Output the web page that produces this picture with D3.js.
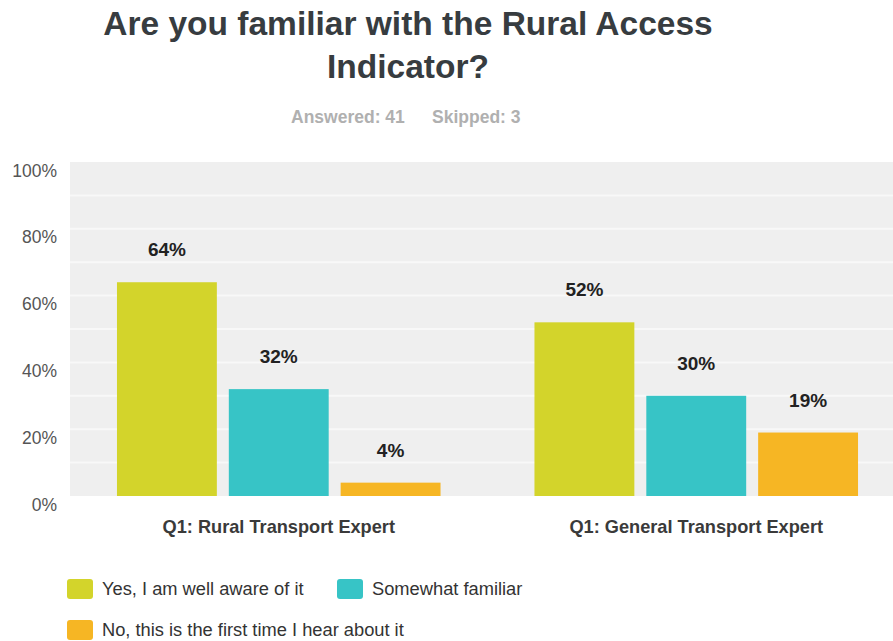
<!DOCTYPE html>
<html>
<head>
<meta charset="utf-8">
<script src="https://cdn.jsdelivr.net/npm/d3@7"></script>
<style>
html,body{margin:0;padding:0;background:#fff;}
svg{display:block;font-family:"Liberation Sans",Arial,Helvetica,sans-serif;}
</style>
</head>
<body>
<svg id="chart" width="893" height="641"></svg>
<script>
const titleLines = ["Are you familiar with the Rural Access", "Indicator?"];
const subtitleParts = ["Answered: 41", "Skipped: 3"];
const categories = ["Q1: Rural Transport Expert", "Q1: General Transport Expert"];
const seriesNames = ["Yes, I am well aware of it", "Somewhat familiar", "No, this is the first time I hear about it"];
const seriesColors = ["#d3d42b", "#37c4c6", "#f6b624"];
const yesValues = [64, 52];
const somewhatValues = [32, 30];
const noValues = [4, 19];
const yTicks = [0, 20, 40, 60, 80, 100];
const gridTicks = [10, 20, 30, 40, 50, 60, 70, 80, 90];

const seriesValues = [yesValues, somewhatValues, noValues];
const data = [];
categories.forEach((c, ci) => seriesNames.forEach((s, si) => data.push({cat: c, series: s, si, value: seriesValues[si][ci]})));

const svg = d3.select("#chart");
const plot = {left: 70, right: 905, top: 162, bottom: 496};

const x0 = d3.scaleBand().domain(categories).range([plot.left, plot.right]).paddingInner(0).paddingOuter(0);
const x1 = d3.scaleBand().domain(seriesNames).range([0, x0.bandwidth()]).paddingInner(0.107).paddingOuter(0.42);
const y = d3.scaleLinear().domain([0, 100]).range([plot.bottom, plot.top]);

// title
svg.append("g").selectAll("text").data(titleLines).join("text")
  .attr("x", 408).attr("y", (d, i) => 35 + i * 43)
  .attr("text-anchor", "middle").attr("font-size", 33.5).attr("font-weight", "bold")
  .attr("fill", "#373c40").text(d => d);

// subtitle
svg.append("g").selectAll("text").data(subtitleParts).join("text")
  .attr("x", (d, i) => i === 0 ? 291 : 432).attr("y", 123)
  .attr("font-size", 17.5).attr("font-weight", "bold").attr("fill", "#b0b0b0").text(d => d);

// plot background
svg.append("rect").attr("x", plot.left).attr("y", plot.top)
  .attr("width", plot.right - plot.left).attr("height", plot.bottom - plot.top)
  .attr("fill", "#efefef");

// gridlines
svg.append("g").selectAll("line").data(gridTicks).join("line")
  .attr("x1", plot.left).attr("x2", plot.right)
  .attr("y1", d => y(d)).attr("y2", d => y(d))
  .attr("stroke", "#f8f8f8").attr("stroke-width", 2);

// y axis
const yAxis = d3.axisLeft(y).tickValues(yTicks).tickFormat(d => d + "%").tickSize(0).tickPadding(13);
const yg = svg.append("g").attr("transform", `translate(${plot.left},0)`).call(yAxis);
yg.select(".domain").remove();
yg.selectAll("text").attr("font-size", 17.5).attr("fill", "#555").attr("dy", "0.8em")
  .attr("font-family", "Liberation Sans, Arial, sans-serif");

// bars
svg.append("g").selectAll("rect").data(data).join("rect")
  .attr("x", d => x0(d.cat) + x1(d.series))
  .attr("y", d => y(d.value))
  .attr("width", x1.bandwidth())
  .attr("height", d => y(0) - y(d.value))
  .attr("fill", d => seriesColors[d.si]);

// value labels
svg.append("g").selectAll("text").data(data).join("text")
  .attr("x", d => x0(d.cat) + x1(d.series) + x1.bandwidth() / 2)
  .attr("y", d => y(d.value) - 26)
  .attr("text-anchor", "middle").attr("font-size", 19).attr("font-weight", "bold")
  .attr("fill", "#222").text(d => d.value + "%");

// x axis
const xAxis = d3.axisBottom(x0).tickSize(0).tickPadding(24);
const xg = svg.append("g").attr("transform", `translate(0,${plot.bottom})`).call(xAxis);
xg.select(".domain").remove();
xg.selectAll("text").attr("font-size", 18.2).attr("font-weight", "bold").attr("fill", "#3a3a3a")
  .attr("font-family", "Liberation Sans, Arial, sans-serif");

// legend
const legendPos = [[67, 579], [337, 579], [67, 620]];
const lg = svg.append("g").selectAll("g").data(seriesNames).join("g")
  .attr("transform", (d, i) => `translate(${legendPos[i][0]},${legendPos[i][1]})`);
lg.append("rect").attr("width", 26).attr("height", 20).attr("rx", 3).attr("fill", (d, i) => seriesColors[i]);
lg.append("text").attr("x", 35).attr("y", 16).attr("font-size", 18.3).attr("fill", "#333").text(d => d);
</script>
</body>
</html>
